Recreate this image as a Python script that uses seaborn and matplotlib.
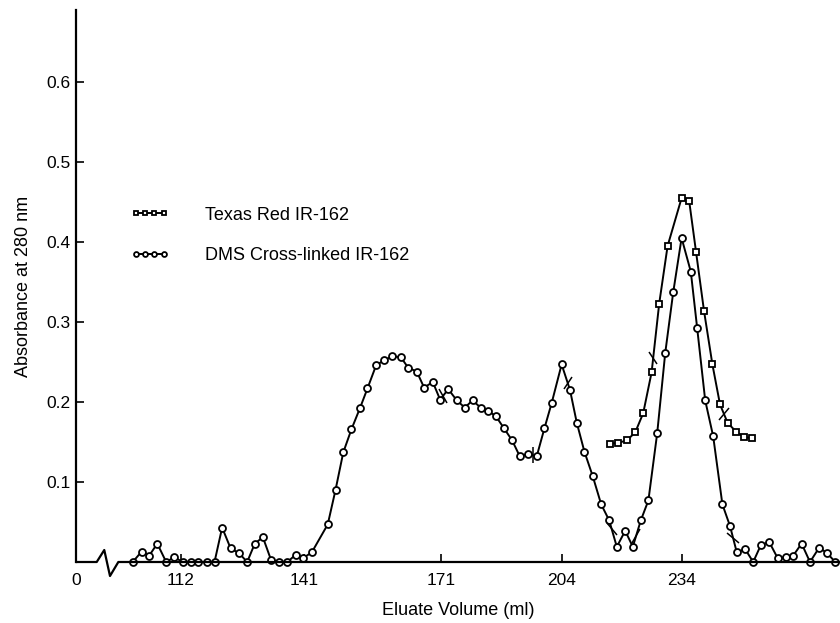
import numpy as np
import matplotlib
matplotlib.use("Agg")
import matplotlib.pyplot as plt
import seaborn as sns
from matplotlib.markers import MarkerStyle
from matplotlib.transforms import Affine2D, blended_transform_factory

# DMS cross-linked IR-162 (circles): eluate volume (ml) and absorbance
dms_ml = [100.6, 102.7, 104.5, 106.4, 108.5, 110.4, 112.4, 114.3, 116.1, 118.1,
          119.9, 121.7, 123.7, 125.7, 127.6, 129.4, 131.3, 133.2, 135.2, 137.1,
          139.0, 140.8, 142.7, 146.2, 147.9, 149.6, 151.4, 153.3, 154.9, 156.8,
          158.5, 160.3, 162.2, 163.8, 165.7, 167.3, 169.2, 170.8, 173.0, 175.3,
          177.5, 179.6, 181.8, 183.9, 186.0, 188.2, 190.4, 192.5, 194.8, 197.1,
          199.2, 201.2, 203.9, 206.0, 207.7, 209.6, 211.7, 213.8, 215.8, 217.7,
          219.8, 221.7, 223.7, 225.6, 227.8, 229.8, 231.8, 233.9, 236.2, 237.8,
          239.8, 241.8, 244.1, 246.0, 247.7, 249.8, 251.8, 253.7, 255.8, 257.9,
          259.9, 261.8, 263.9, 266.0, 268.3, 270.3, 272.3]
dms_abs = [0.000, 0.013, 0.008, 0.023, 0.000, 0.006, 0.000, 0.000, 0.000, 0.000,
           0.000, 0.043, 0.017, 0.011, 0.000, 0.023, 0.031, 0.003, 0.000, 0.000,
           0.009, 0.005, 0.012, 0.047, 0.090, 0.137, 0.166, 0.193, 0.217, 0.246,
           0.252, 0.257, 0.256, 0.243, 0.238, 0.218, 0.225, 0.203, 0.216, 0.202,
           0.193, 0.202, 0.193, 0.189, 0.182, 0.167, 0.152, 0.132, 0.135, 0.132,
           0.167, 0.199, 0.247, 0.215, 0.174, 0.138, 0.107, 0.072, 0.052, 0.019,
           0.039, 0.019, 0.052, 0.077, 0.161, 0.261, 0.337, 0.405, 0.363, 0.292,
           0.202, 0.157, 0.072, 0.045, 0.012, 0.016, 0.000, 0.021, 0.025, 0.005,
           0.006, 0.008, 0.023, 0.000, 0.018, 0.011, 0.000]

# Texas Red IR-162 (squares)
tr_ml = [216.0, 218.1, 220.2, 222.3, 224.3, 226.4, 228.3, 230.4, 233.9, 235.8,
         237.5, 239.5, 241.6, 243.5, 245.4, 247.5, 249.5, 251.5]
tr_abs = [0.148, 0.149, 0.152, 0.162, 0.186, 0.237, 0.323, 0.395, 0.455, 0.451,
          0.388, 0.314, 0.247, 0.197, 0.174, 0.163, 0.156, 0.155]

# fraction marks drawn across the curves
dms_marks = [171.6, 196.2, 205.4, 216.4, 222.5, 246.8]
tr_marks = [226.8, 244.5]

xticks = [0, 112, 141, 171, 204, 234]
yticks = [0.1, 0.2, 0.3, 0.4, 0.5, 0.6]

# the printed axis is not linear in ml: piecewise scale through the labelled ticks
ml_anchor = [0, 95, 112, 141, 171, 204, 234, 280]
pos_anchor = [76, 109, 181, 304, 441, 562, 682, 866]


def fwd(v):
    return np.interp(v, ml_anchor, pos_anchor)


def inv(v):
    return np.interp(v, pos_anchor, ml_anchor)


sns.set_style("white")
plt.rcParams["font.family"] = ["Liberation Sans", "DejaVu Sans"]
plt.rcParams["text.color"] = "black"
plt.rcParams["axes.labelcolor"] = "black"

fig = plt.figure(figsize=(8.4, 6.23), dpi=100)
ax = fig.add_axes([76 / 840, 61 / 623, 764 / 840, 552 / 623])
ax.set_xscale("function", functions=(fwd, inv))

sns.lineplot(x=tr_ml, y=tr_abs, ax=ax, color="black", lw=1.4, marker="s",
             markersize=4.6, markerfacecolor="white", markeredgecolor="black",
             markeredgewidth=1.3, clip_on=False, label="Texas Red IR-162")
sns.lineplot(x=dms_ml, y=dms_abs, ax=ax, color="black", lw=1.4, marker="o",
             markersize=5, markerfacecolor="white", markeredgecolor="black",
             markeredgewidth=1.3, clip_on=False, label="DMS Cross-linked IR-162")

# small slashes marking fraction changes
for xs, xd, yd, angs in [(dms_marks, dms_ml, dms_abs, [30, 0, -35, 40, -30, 50]),
                         (tr_marks, tr_ml, tr_abs, [35, -40])]:
    for xm, a in zip(xs, angs):
        ym = np.interp(xm, xd, yd)
        mk = MarkerStyle("|", transform=Affine2D().rotate_deg(a))
        ax.plot([xm], [ym], marker=mk, markersize=11, mew=1.1, color="black",
                linestyle="none")

ax.set_xlim(0, 273.5)
ax.set_ylim(0, 0.69)
ax.set_xticks(xticks)
ax.set_xticklabels([str(t) for t in xticks])
ax.set_yticks(yticks)
ax.set_yticklabels([f"{t:.1f}" for t in yticks])
ax.minorticks_off()
ax.tick_params(axis="both", direction="in", length=6, width=1.2, labelsize=12.5,
               color="black", labelcolor="black", bottom=True, left=True)
ax.tick_params(axis="x", pad=8)
ax.tick_params(axis="y", pad=4)

for s in ["top", "right", "bottom"]:
    ax.spines[s].set_visible(False)
ax.spines["left"].set_color("black")
ax.spines["left"].set_linewidth(1.6)

# bottom axis with a break just after zero
tr = blended_transform_factory(ax.transAxes, ax.transData)
ax.plot([0, 0.0271, 0.0370, 0.0445, 0.0554, 1.0],
        [0, 0, 0.015, -0.0175, 0, 0], transform=tr, color="black", lw=1.6,
        clip_on=False)

ax.set_xlabel("Eluate Volume (ml)", fontsize=13, labelpad=10, color="black")
ax.set_ylabel("Absorbance at 280 nm", fontsize=13, labelpad=10, color="black")

ax.legend(loc="upper left", bbox_to_anchor=(0.072, 0.644), frameon=False,
          fontsize=13, numpoints=4, markerscale=0.7, handlelength=2.1,
          handletextpad=2.0, labelspacing=1.3, borderpad=0, borderaxespad=0,
          labelcolor="black")

fig.savefig("out.png", dpi=100)
